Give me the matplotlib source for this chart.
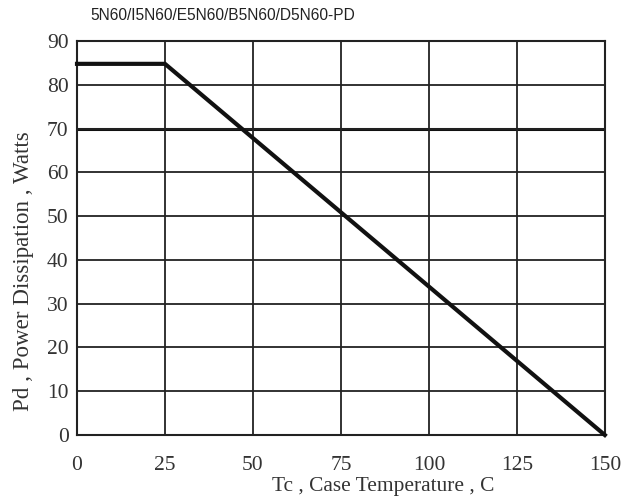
import matplotlib
matplotlib.use("Agg")
import matplotlib.pyplot as plt

temps = [0, 25, 150]
power = [84.8, 84.8, 0]
xticks = [0, 25, 50, 75, 100, 125, 150]
yticks = [0, 10, 20, 30, 40, 50, 60, 70, 80, 90]

fig = plt.figure(figsize=(6.38, 5.01), dpi=100)
ax = fig.add_axes([0.1207, 0.1317, 0.948 - 0.1207, 0.918 - 0.1317])
ax.set_xlim(0, 150)
ax.set_ylim(0, 90)
ax.set_xticks(xticks)
ax.set_yticks(yticks)
serif = ["Liberation Serif", "DejaVu Serif"]
ax.set_xticklabels([str(t) for t in xticks], family=serif, fontsize=15.5, color="#333333")
ax.set_yticklabels([str(t) for t in yticks], family=serif, fontsize=15.5, color="#333333")
ax.tick_params(axis="x", length=0, pad=15)
ax.tick_params(axis="y", length=0, pad=6)
ax.grid(True, color="#222222", linewidth=1.3)
for y in [70]:
    ax.axhline(y, color="#111111", linewidth=2.2, zorder=1.5)
for s in ax.spines.values():
    s.set_color("#222222")
    s.set_linewidth(1.5)
ax.plot(temps, power, color="#111111", linewidth=3, solid_joinstyle="miter", zorder=3, clip_on=False)
fig.text(383 / 638, 1 - 491 / 501, "Tc , Case Temperature , C", family=serif, fontsize=15.4,
         color="#333333", ha="center", va="baseline")
fig.text(24 / 638, 1 - 271 / 501, "Pd , Power Dissipation , Watts", family=serif, fontsize=16.6,
         color="#333333", ha="center", va="center", rotation=90)
fig.text(90 / 638, 1 - 15 / 501, "5N60/I5N60/E5N60/B5N60/D5N60-PD", family=["Liberation Sans", "DejaVu Sans"],
         fontsize=11.2, color="#222222", ha="left", va="center")
fig.savefig("out.png", dpi=100)
